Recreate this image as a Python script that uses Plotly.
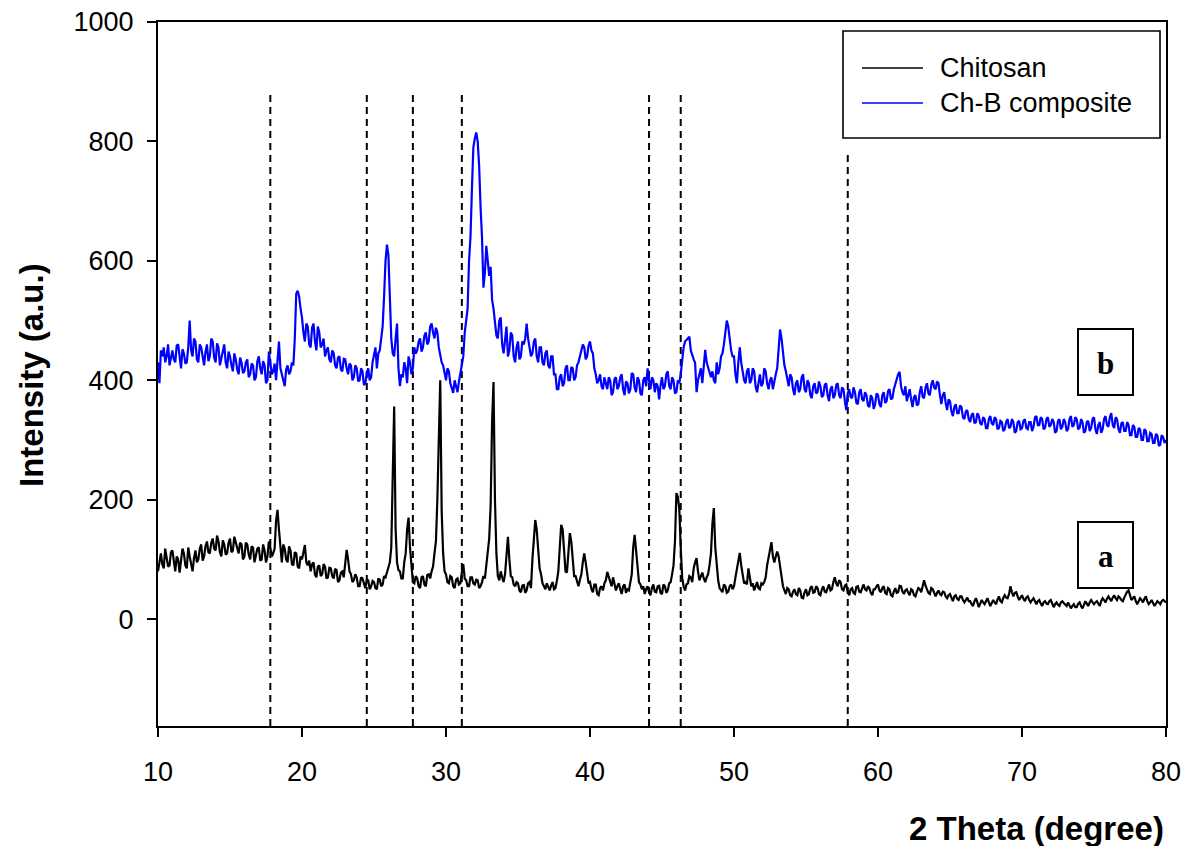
import numpy as np
import plotly.graph_objects as go

# ---------------- data ----------------
two_theta = np.linspace(10.0, 80.0, 701)  # 0.1 degree sampling grid

chitosan = [
    80, 100, 110, 92, 85, 118, 105, 88, 90, 112,       # 10
    115, 95, 80, 105, 100, 78, 95, 118, 110, 90,       # 11
    85, 120, 105, 90, 80, 102, 115, 95, 100, 118,      # 12
    125, 98, 105, 122, 130, 112, 110, 128, 135, 118,   # 13
    115, 140, 130, 112, 105, 132, 125, 108, 110, 128,  # 14
    135, 112, 115, 138, 130, 118, 110, 128, 125, 100,  # 15
    105, 128, 125, 108, 100, 122, 120, 95, 105, 118,   # 16
    120, 98, 100, 125, 115, 95, 105, 130, 120, 105,    # 17
    110, 118, 165, 183, 150, 120, 95, 125, 118, 100,   # 18
    95, 122, 115, 92, 90, 112, 110, 88, 85, 105,       # 19
    100, 112, 124, 95, 90, 98, 80, 92, 95, 75,         # 20
    70, 88, 90, 72, 75, 92, 88, 68, 70, 86,            # 21
    85, 72, 68, 84, 82, 62, 65, 78, 80, 70,            # 22
    90, 116, 100, 80, 75, 62, 65, 75, 70, 55,          # 23
    55, 70, 68, 58, 52, 66, 65, 50, 55, 64,            # 24
    62, 52, 50, 68, 66, 55, 58, 72, 70, 78,            # 25
    85, 95, 120, 260, 356, 150, 95, 82, 80, 68,        # 26
    68, 95, 110, 150, 170, 120, 85, 62, 60, 72,        # 27
    68, 55, 52, 70, 72, 58, 55, 74, 75, 68,            # 28
    80, 88, 110, 130, 200, 330, 400, 180, 110, 80,     # 29
    75, 62, 60, 72, 70, 55, 52, 66, 68, 58,            # 30
    60, 78, 92, 68, 65, 55, 55, 70, 70, 60,            # 31
    58, 66, 65, 52, 55, 62, 72, 68, 90, 110,           # 32
    135, 190, 330, 397, 200, 110, 72, 65, 80, 70,      # 33
    62, 75, 110, 138, 100, 72, 70, 58, 55, 62,         # 34
    60, 48, 45, 56, 58, 44, 48, 60, 62, 52,            # 35
    100, 140, 166, 150, 110, 85, 75, 60, 55, 50,       # 36
    60, 52, 48, 56, 62, 50, 52, 64, 80, 120,           # 37
    158, 150, 110, 80, 78, 110, 144, 130, 95, 72,      # 38
    72, 62, 55, 66, 75, 95, 110, 95, 80, 60,           # 39
    62, 50, 45, 58, 58, 42, 40, 52, 55, 48,            # 40
    60, 65, 79, 72, 62, 55, 70, 58, 48, 55,            # 41
    60, 50, 42, 55, 58, 44, 50, 48, 60, 75,            # 42
    120, 141, 115, 80, 62, 58, 50, 55, 42, 50,         # 43
    55, 45, 40, 52, 58, 46, 45, 55, 56, 44,            # 44
    42, 58, 55, 44, 48, 60, 62, 75, 90, 130,           # 45
    211, 205, 185, 120, 70, 55, 48, 58, 60, 72,        # 46
    70, 62, 85, 95, 102, 80, 65, 72, 78, 68,           # 47
    62, 70, 75, 90, 110, 160, 186, 120, 90, 65,        # 48
    52, 48, 45, 58, 55, 44, 46, 55, 58, 50,            # 49
    55, 70, 85, 100, 111, 90, 70, 60, 62, 58,          # 50
    85, 65, 55, 60, 48, 55, 62, 52, 50, 60,            # 51
    58, 62, 70, 90, 105, 120, 129, 105, 95, 105,       # 52
    113, 105, 90, 75, 55, 48, 42, 52, 50, 40,          # 53
    38, 46, 50, 42, 40, 52, 48, 36, 35, 45,            # 54
    50, 40, 42, 52, 55, 44, 45, 55, 52, 42,            # 55
    40, 50, 55, 46, 45, 52, 58, 48, 50, 62,            # 56
    70, 60, 55, 65, 62, 50, 48, 56, 58, 45,            # 57
    40, 50, 52, 44, 42, 54, 55, 46, 45, 52,            # 58
    58, 50, 48, 55, 52, 44, 40, 50, 50, 55,            # 59
    58, 48, 45, 52, 55, 44, 42, 52, 50, 40,            # 60
    38, 46, 52, 44, 45, 56, 55, 46, 42, 48,            # 61
    50, 44, 40, 50, 48, 40, 38, 46, 52, 50,            # 62
    45, 55, 65, 56, 50, 44, 42, 52, 50, 44,            # 63
    38, 44, 48, 42, 40, 46, 45, 38, 35, 40,            # 64
    42, 36, 30, 38, 40, 34, 32, 38, 38, 32,            # 65
    28, 32, 36, 30, 30, 25, 22, 30, 35, 28,            # 66
    20, 26, 32, 28, 25, 30, 35, 28, 22, 27,            # 67
    32, 28, 25, 33, 38, 30, 28, 36, 40, 36,            # 68
    35, 42, 55, 45, 38, 44, 45, 38, 32, 36,            # 69
    40, 34, 30, 36, 38, 32, 28, 32, 35, 30,            # 70
    25, 30, 32, 26, 22, 28, 30, 26, 25, 30,            # 71
    32, 26, 20, 25, 28, 24, 22, 28, 30, 27,            # 72
    25, 22, 28, 24, 18, 22, 25, 20, 20, 26,            # 73
    28, 22, 18, 24, 30, 26, 22, 28, 32, 28,            # 74
    25, 28, 30, 26, 22, 30, 35, 32, 28, 34,            # 75
    38, 34, 30, 36, 40, 35, 32, 38, 36, 32,            # 76
    30, 36, 42, 46, 48, 38, 32, 35, 38, 30,            # 77
    25, 30, 35, 32, 28, 34, 38, 30, 25, 28,            # 78
    32, 27, 22, 26, 30, 28, 25, 30, 32, 30,            # 79
    28,                                                # 80
]

chb_composite = [
    430, 395, 450, 440, 455, 430, 440, 460, 425, 440,  # 10
    450, 435, 430, 458, 460, 440, 420, 452, 445, 428,  # 11
    430, 455, 500, 450, 440, 470, 465, 435, 430, 460,  # 12
    455, 440, 425, 448, 460, 432, 440, 470, 465, 438,  # 13
    430, 462, 455, 425, 435, 450, 460, 430, 420, 448,  # 14
    440, 425, 415, 445, 435, 418, 410, 438, 430, 412,  # 15
    415, 430, 435, 405, 410, 428, 425, 400, 405, 432,  # 16
    440, 420, 410, 432, 425, 395, 400, 448, 430, 410,  # 17
    415, 428, 400, 430, 465, 420, 410, 400, 390, 418,  # 18
    425, 410, 415, 430, 425, 470, 545, 550, 540, 520,  # 19
    505, 480, 465, 495, 490, 460, 455, 488, 495, 465,  # 20
    450, 490, 480, 455, 460, 470, 440, 450, 455, 435,  # 21
    430, 450, 445, 425, 420, 438, 440, 418, 415, 436,  # 22
    435, 420, 410, 428, 425, 400, 405, 425, 420, 398,  # 23
    400, 420, 415, 392, 395, 412, 420, 400, 405, 430,  # 24
    440, 455, 420, 445, 450, 470, 490, 540, 600, 627,  # 25
    610, 540, 470, 445, 440, 470, 495, 420, 390, 410,  # 26
    405, 430, 420, 395, 440, 430, 410, 420, 455, 445,  # 27
    450, 465, 470, 448, 455, 475, 480, 460, 465, 490,  # 28
    495, 480, 470, 488, 480, 455, 440, 430, 425, 410,  # 29
    400, 420, 415, 395, 385, 379, 400, 390, 380, 398,  # 30
    410, 425, 440, 480, 505, 520, 600, 640, 720, 790,  # 31
    805, 815, 800, 760, 690, 640, 555, 580, 625, 600,  # 32
    575, 590, 535, 520, 490, 475, 470, 500, 505, 460,  # 33
    445, 470, 490, 440, 450, 480, 475, 440, 430, 455,  # 34
    465, 435, 440, 465, 460, 470, 495, 470, 455, 440,  # 35
    445, 465, 470, 440, 430, 455, 455, 430, 425, 445,  # 36
    450, 425, 420, 440, 440, 410, 410, 385, 385, 405,  # 37
    410, 390, 395, 420, 425, 400, 400, 422, 420, 400,  # 38
    405, 425, 430, 440, 445, 460, 455, 435, 440, 458,  # 39
    465, 450, 445, 420, 410, 395, 400, 410, 390, 385,  # 40
    405, 395, 385, 405, 400, 375, 380, 402, 405, 385,  # 41
    390, 405, 410, 385, 375, 398, 395, 378, 385, 412,  # 42
    410, 388, 380, 405, 400, 378, 375, 400, 405, 390,  # 43
    420, 400, 385, 405, 400, 380, 395, 390, 368, 392,  # 44
    405, 385, 390, 410, 415, 390, 385, 405, 400, 378,  # 45
    380, 400, 395, 410, 440, 455, 465, 468, 470, 473,  # 46
    450, 440, 435, 429, 380, 400, 410, 420, 395, 430,  # 47
    451, 430, 420, 410, 405, 415, 400, 395, 430, 410,  # 48
    420, 440, 445, 460, 480, 500, 490, 465, 450, 440,  # 49
    440, 410, 395, 430, 455, 430, 410, 400, 395, 415,  # 50
    420, 395, 400, 420, 415, 390, 380, 398, 410, 390,  # 51
    395, 420, 415, 395, 385, 400, 405, 385, 400, 410,  # 52
    420, 450, 485, 470, 445, 425, 415, 400, 390, 410,  # 53
    405, 385, 375, 395, 400, 380, 385, 405, 410, 385,  # 54
    380, 400, 395, 375, 370, 390, 395, 378, 380, 398,  # 55
    390, 372, 375, 392, 395, 375, 365, 385, 390, 370,  # 56
    375, 392, 395, 375, 370, 388, 385, 365, 350, 378,  # 57
    385, 372, 370, 388, 380, 362, 360, 380, 385, 368,  # 58
    365, 380, 375, 358, 355, 375, 370, 352, 360, 378,  # 59
    375, 360, 355, 375, 380, 362, 365, 382, 385, 368,  # 60
    370, 385, 395, 400, 410, 414, 390, 380, 375, 390,  # 61
    365, 375, 385, 368, 355, 372, 375, 358, 360, 380,  # 62
    390, 372, 370, 388, 395, 378, 375, 392, 400, 388,  # 63
    385, 398, 395, 375, 360, 375, 380, 362, 350, 368,  # 64
    365, 348, 340, 355, 360, 345, 345, 358, 355, 338,  # 65
    335, 348, 350, 335, 330, 342, 345, 328, 330, 345,  # 66
    340, 328, 325, 338, 335, 320, 320, 335, 340, 328,  # 67
    325, 338, 335, 318, 320, 332, 330, 315, 318, 330,  # 68
    335, 320, 322, 335, 330, 312, 315, 330, 332, 318,  # 69
    320, 332, 335, 320, 318, 330, 330, 315, 322, 338,  # 70
    340, 325, 325, 338, 335, 318, 320, 335, 338, 322,  # 71
    325, 335, 330, 312, 315, 332, 335, 318, 322, 335,  # 72
    330, 315, 318, 335, 340, 322, 325, 338, 335, 318,  # 73
    320, 335, 330, 312, 315, 330, 332, 315, 320, 335,  # 74
    338, 318, 310, 325, 330, 312, 318, 335, 340, 325,  # 75
    322, 338, 345, 325, 320, 338, 335, 318, 312, 328,  # 76
    330, 315, 315, 330, 325, 308, 308, 325, 322, 305,  # 77
    305, 320, 318, 300, 300, 318, 315, 298, 298, 312,  # 78
    310, 295, 295, 310, 308, 290, 292, 308, 305, 295,  # 79
    300,                                               # 80
]

ref_positions = [17.8, 24.5, 27.7, 31.1, 44.1, 46.3, 57.9]
ref_tops = [885, 885, 885, 885, 885, 885, 782]

x_ticks = [10, 20, 30, 40, 50, 60, 70, 80]
y_ticks = [0, 200, 400, 600, 800, 1000]
x_range = [10, 80]
y_range = [-179, 1000]

series_names = ["Chitosan", "Ch-B composite"]
series_colors = ["#000000", "#0000ff"]

assert len(chitosan) == len(two_theta) == len(chb_composite)

# ---------------- layout geometry (pixels) ----------------
W, H = 1189, 846
L, R, T, B = 158, 1166, 22, 726


def px(xp):
    return (xp - L) / (R - L)


def py(yp):
    return (B - yp) / (B - T)


fig = go.Figure()

# reference dashed lines
for xv, top in zip(ref_positions, ref_tops):
    fig.add_trace(go.Scatter(
        x=[xv, xv], y=[y_range[0], top], mode="lines",
        line=dict(color="black", width=2, dash="7px,5px"),
        showlegend=False, hoverinfo="skip"))

fig.add_trace(go.Scatter(x=two_theta, y=chitosan, mode="lines", name=series_names[0],
                         line=dict(color=series_colors[0], width=2.2), showlegend=False))
fig.add_trace(go.Scatter(x=two_theta, y=chb_composite, mode="lines", name=series_names[1],
                         line=dict(color=series_colors[1], width=2.2), showlegend=False))

shapes = []
annotations = []

# custom legend
shapes.append(dict(type="rect", xref="paper", yref="paper",
                   x0=px(843), x1=px(1160), y0=py(138), y1=py(31),
                   line=dict(color="black", width=1.6), fillcolor="white", layer="above"))
for name, color, yl in zip(series_names, series_colors, [68, 103]):
    shapes.append(dict(type="line", xref="paper", yref="paper",
                       x0=px(862), x1=px(923), y0=py(yl), y1=py(yl),
                       line=dict(color=color, width=1.6), layer="above"))
    annotations.append(dict(xref="paper", yref="paper", x=px(938), y=py(yl),
                            xanchor="left", yanchor="middle", showarrow=False,
                            text=name, font=dict(family="Arial, Liberation Sans", size=27, color="black")))

# a / b labels
for lab, y0, y1 in [("b", 329, 395), ("a", 522, 588)]:
    shapes.append(dict(type="rect", xref="paper", yref="paper",
                       x0=px(1078), x1=px(1133), y0=py(y1), y1=py(y0),
                       line=dict(color="black", width=2), fillcolor="white", layer="above"))
    annotations.append(dict(xref="paper", yref="paper", x=px(1105.5), y=py((y0 + y1) / 2 + 1),
                            xanchor="center", yanchor="middle", showarrow=False,
                            text="<b>%s</b>" % lab,
                            font=dict(family="Liberation Serif, Times New Roman", size=31, color="black")))

# axis titles
annotations.append(dict(xref="paper", yref="paper", x=px(1166), y=py(828),
                        xanchor="right", yanchor="middle", showarrow=False,
                        text="<b>2 Theta (degree)</b>",
                        font=dict(family="Arial, Liberation Sans", size=33, color="black")))
annotations.append(dict(xref="paper", yref="paper", x=px(31), y=py(375),
                        xanchor="center", yanchor="middle", showarrow=False, textangle=-90,
                        text="<b>Intensity (a.u.)</b>",
                        font=dict(family="Arial, Liberation Sans", size=33, color="black")))

fig.update_layout(
    width=W, height=H,
    margin=dict(l=L, r=W - R, t=T, b=H - B, autoexpand=False),
    paper_bgcolor="white", plot_bgcolor="white",
    shapes=shapes, annotations=annotations,
    font=dict(family="Arial, Liberation Sans", size=27, color="black"),
    showlegend=False,
)
fig.update_xaxes(range=x_range, tickvals=x_ticks, ticks="outside", ticklen=9, tickwidth=2,
                 tickcolor="black", showline=True, linecolor="black", linewidth=2, mirror=True,
                 showgrid=False, zeroline=False, ticklabelstandoff=12, automargin=False,
                 tickfont=dict(family="Arial, Liberation Sans", size=27, color="black"))
fig.update_yaxes(range=y_range, tickvals=y_ticks, ticks="outside", ticklen=9, tickwidth=2,
                 tickcolor="black", showline=True, linecolor="black", linewidth=2, mirror=True,
                 showgrid=False, zeroline=False, ticklabelstandoff=8, automargin=False,
                 tickfont=dict(family="Arial, Liberation Sans", size=27, color="black"))

fig.write_html("out.html")
